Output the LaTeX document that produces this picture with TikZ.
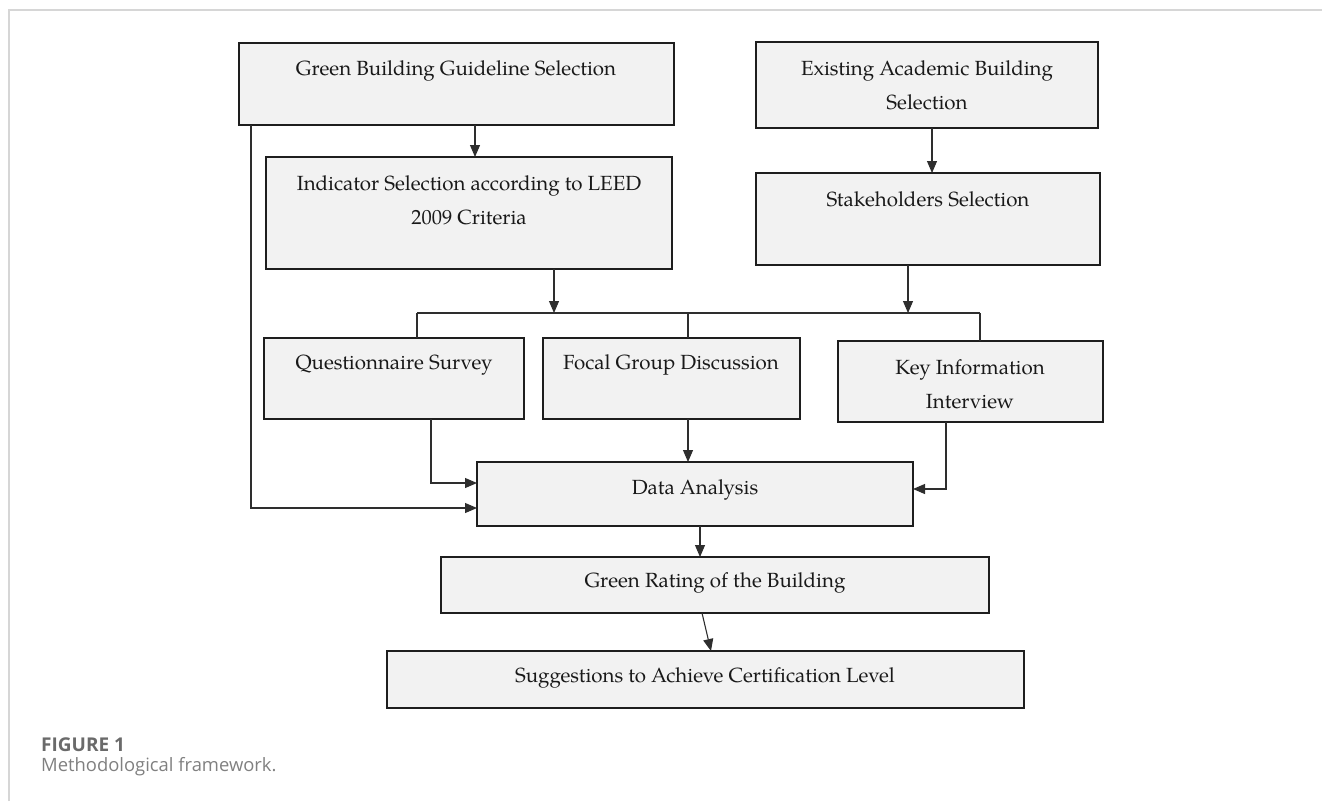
\documentclass[tikz,border=0pt]{standalone}
\usepackage{fontspec}
\setmainfont{TeX Gyre Pagella}
\newfontfamily\capfont{Open Sans}
\usetikzlibrary{arrows.meta,calc}
\definecolor{boxfill}{HTML}{F2F2F2}
\definecolor{boxline}{HTML}{1E1E1E}
\definecolor{conline}{HTML}{2E2E2E}
\definecolor{framegray}{HTML}{D6D6D6}
\definecolor{capdark}{HTML}{6A6A6A}
\definecolor{caplight}{HTML}{808080}
\tikzset{
  stepbox/.style={draw=boxline, fill=boxfill, line width=1.4pt, inner sep=0pt, outer sep=0pt},
  boxtext/.style={font=\fontsize{20.5}{34}\selectfont, align=center, inner sep=0pt, text=black!90},
  conn/.style={draw=conline, line width=1.1pt},
  arr/.style={conn, -{Triangle[length=12pt,width=10pt]}},
  framestyle/.style={draw=framegray, line width=1.6pt}
}
\begin{document}
\begin{tikzpicture}[x=1pt,y=-1pt]
\useasboundingbox (0,0) rectangle (1322,801);
% frame
\draw[framestyle] (9,801) -- (9,10) -- (1322,10);

% boxes
\node[stepbox, minimum width=435pt, minimum height=82pt] (b1) at (456.5,84) {};
\node[stepbox, minimum width=406pt, minimum height=112pt] (b2) at (469,213) {};
\node[stepbox, minimum width=342pt, minimum height=86pt] (b3) at (927,85) {};
\node[stepbox, minimum width=344pt, minimum height=92pt] (b4) at (928,219) {};
\node[stepbox, minimum width=260pt, minimum height=81pt] (q) at (394,378.5) {};
\node[stepbox, minimum width=257pt, minimum height=81pt] (f) at (671.5,378.5) {};
\node[stepbox, minimum width=265pt, minimum height=81pt] (k) at (970.5,381.5) {};
\node[stepbox, minimum width=436pt, minimum height=64pt] (da) at (695,494) {};
\node[stepbox, minimum width=548pt, minimum height=56pt] (gr) at (715,585) {};
\node[stepbox, minimum width=637pt, minimum height=57pt] (sg) at (705.5,679.5) {};

% texts
\node[boxtext] (t1) at (456,70.5) {Green Building Guideline Selection};
\node[boxtext] (t2) at (469,200) {Indicator Selection according to LEED\\2009 Criteria};
\node[boxtext] (t3) at (927,85.5) {Existing Academic Building\\Selection};
\node[boxtext] (t4) at (928,199) {Stakeholders Selection};
\node[boxtext] (tq) at (394,365) {Questionnaire Survey};
\node[boxtext] (tf) at (671,365) {Focal Group Discussion};
\node[boxtext] (tk) at (970,384.5) {Key Information\\Interview};
\node[boxtext] (tda) at (695,490) {Data Analysis};
\node[boxtext] (tgr) at (715,583) {Green Rating of the Building};
\node[boxtext] (tsg) at (705,678) {Suggestions to Achieve Certification Level};

% helper coordinates
\coordinate (x475) at (475,0);
\coordinate (x251) at (251,0);
\coordinate (x554) at (554,0);
\coordinate (x932) at (932,0);
\coordinate (x908) at (908,0);
\coordinate (x688) at (688,0);
\coordinate (x431) at (431,0);
\coordinate (x946) at (946,0);
\coordinate (x700) at (700,0);
\coordinate (x702) at (702,0);
\coordinate (x711) at (711,0);
\coordinate (y508) at (0,508);
\coordinate (y483) at (0,483);
\coordinate (y489) at (0,489);
\coordinate (fl) at (417,313);
\coordinate (fr) at (980,313);

% connectors
\draw[arr] (b1.south -| x475) -- (b2.north -| x475);
\draw[arr] (b1.south -| x251) |- (da.west |- y508);
\draw[arr] (b2.south -| x554) -- (x554 |- fl);
\draw[arr] (b3.south -| x932) -- (b4.north -| x932);
\draw[arr] (b4.south -| x908) -- (x908 |- fr);
\draw[conn] (fl) -- (fr);
\draw[conn, line width=1.5pt] (fl) -- (q.north -| fl);
\draw[conn, line width=1.3pt] (x688 |- fl) -- (f.north -| x688);
\draw[conn, line width=1.5pt] (fr) -- (k.north -| fr);
\draw[arr] (q.south -| x431) |- (da.west |- y483);
\draw[arr] (f.south -| x688) -- (da.north -| x688);
\draw[arr] (k.south -| x946) |- (da.east |- y489);
\draw[arr] (da.south -| x700) -- (gr.north -| x700);
\draw[arr] (gr.south -| x702) -- (sg.north -| x711);

% caption
\node[anchor=west, inner sep=0pt, font=\capfont\bfseries\fontsize{19}{21}\selectfont, text=capdark] (cap1) at (41,745) {FIGURE 1};
\node[anchor=west, inner sep=0pt, font=\capfont\fontsize{18.4}{21}\selectfont, text=caplight] (cap2) at (41,767) {Methodological framework.};
\end{tikzpicture}
\end{document}
